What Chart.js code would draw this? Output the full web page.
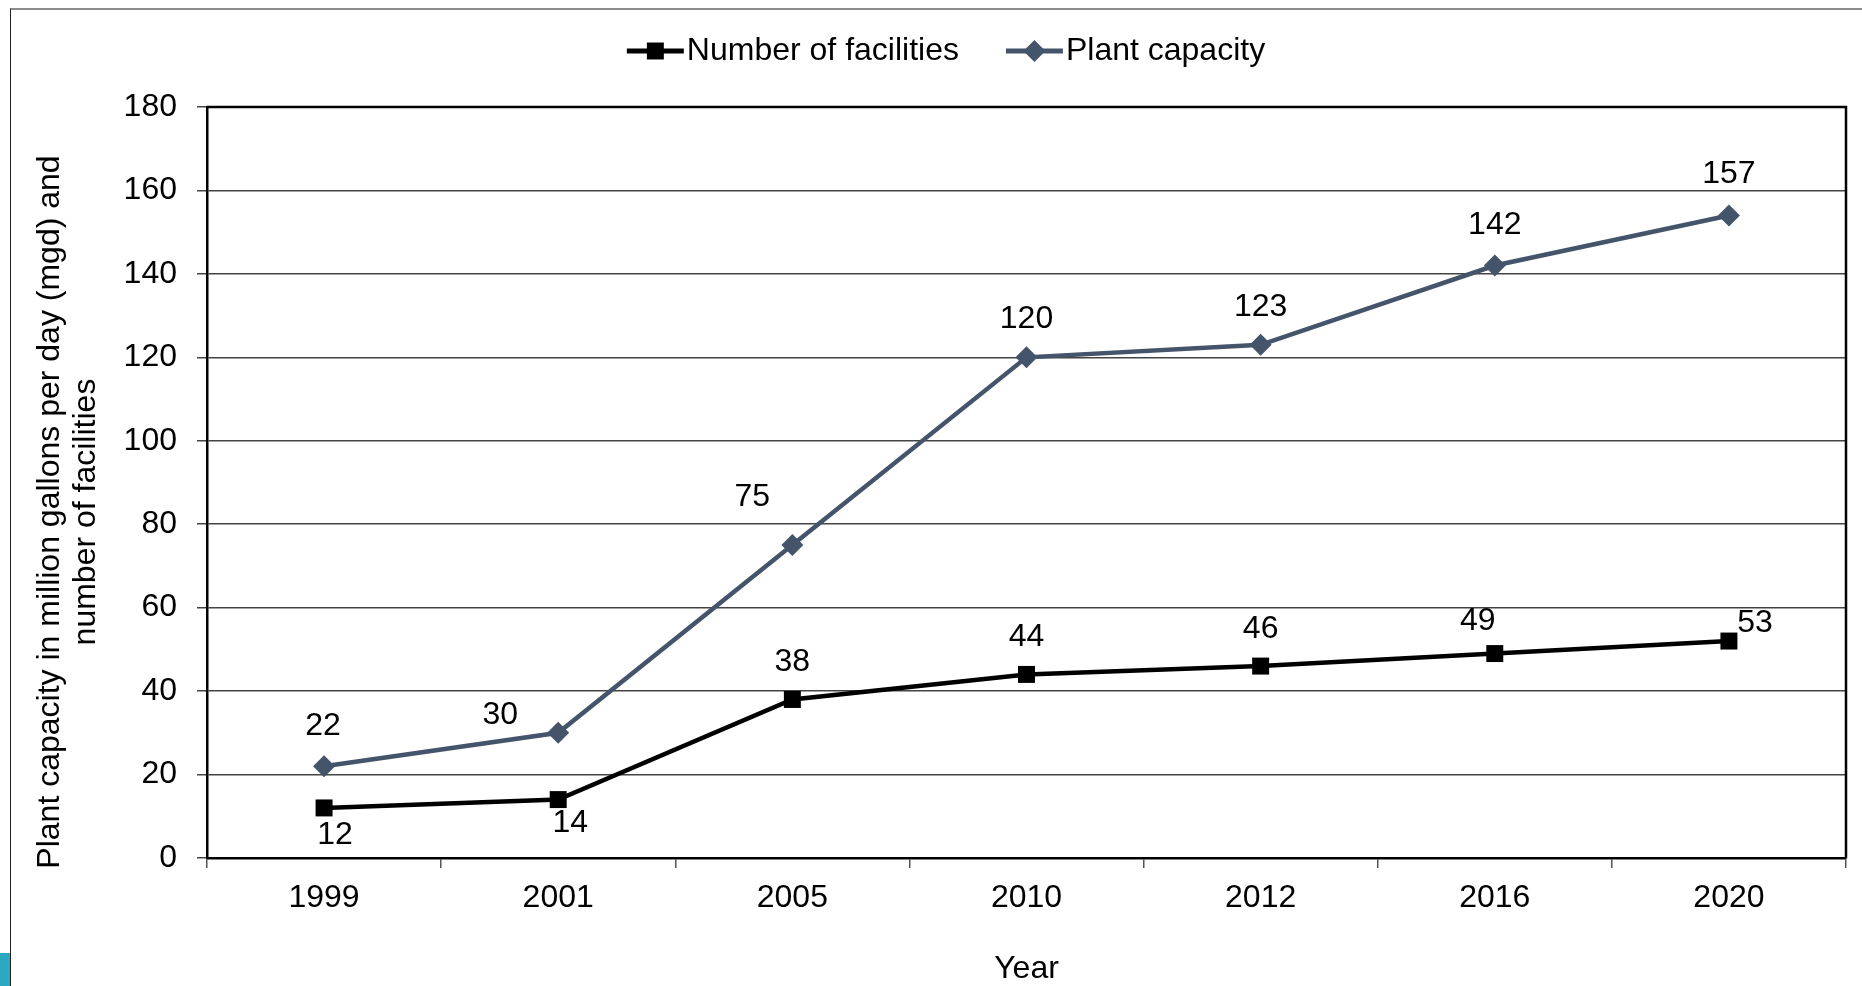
<!DOCTYPE html>
<html>
<head>
<meta charset="utf-8">
<script src="https://cdn.jsdelivr.net/npm/chart.js@4.4.0/dist/chart.umd.min.js"></script>
<style>
  html, body { margin: 0; padding: 0; background: #fff; }
  body { width: 1862px; height: 986px; position: relative; overflow: hidden; }
  #frame { position: absolute; left: 10px; top: 8px; width: 1900px; height: 1000px;
           border-top: 2px solid #8c8c8c; border-left: 1.5px solid #222; }
  #tab { position: absolute; left: 0; top: 953px; width: 10px; height: 33px; background: #2ca8c2; }
  #wrap { position: absolute; left: 0; top: 0; }
</style>
</head>
<body>
<div id="frame"></div>
<div id="tab"></div>
<div id="wrap"><canvas id="myChart" width="1862" height="986"></canvas></div>
<script>
// chart data
const years = ['1999', '2001', '2005', '2010', '2012', '2016', '2020']
const facilities = [12, 14, 38, 44, 46, 49, 52]
const capacity = [22, 30, 75, 120, 123, 142, 154]
// value labels as printed on the original
const facilityLabels = ['12', '14', '38', '44', '46', '49', '53']
const capacityLabels = ['22', '30', '75', '120', '123', '142', '157']
const yMin = 0
const yMax = 180
const yStep = 20

// label placement relative to each point (px)
const facilityOffsets = [[11, 27], [12, 24], [0, -37], [0, -37], [0, -37], [-17, -32], [26, -18]]
const capacityOffsets = [[-1, -40], [-58, -18], [-40, -48], [0, -38], [0, -38], [0, -40], [0, -41]]

const FONT = "'Liberation Sans', Arial, sans-serif"
const FS = 32
const slate = '#44546a'

Chart.defaults.font.family = FONT
Chart.defaults.font.size = FS
Chart.defaults.color = '#000'

function drawMarker(ctx, style, x, y, r, color) {
  ctx.save()
  ctx.fillStyle = color
  ctx.beginPath()
  if (style === 'rect') {
    const s = r * Math.SQRT1_2
    ctx.rect(x - s, y - s, 2 * s, 2 * s)
  } else {
    ctx.moveTo(x - r, y)
    ctx.lineTo(x, y - r)
    ctx.lineTo(x + r, y)
    ctx.lineTo(x, y + r)
    ctx.closePath()
  }
  ctx.fill()
  ctx.restore()
}

const boxPlugin = {
  id: 'box',
  afterDraw(chart) {
    const { ctx, chartArea: a } = chart
    ctx.save()
    ctx.strokeStyle = '#000'
    ctx.lineWidth = 2.5
    ctx.beginPath()
    ctx.moveTo(a.left, a.top)
    ctx.lineTo(a.right, a.top)
    ctx.lineTo(a.right, a.bottom)
    ctx.stroke()
    ctx.restore()
  }
}

const valueLabels = {
  id: 'valueLabels',
  afterDatasetsDraw(chart) {
    const { ctx } = chart
    const sets = [[facilityLabels, facilityOffsets], [capacityLabels, capacityOffsets]]
    ctx.save()
    ctx.font = FS + 'px ' + FONT
    ctx.fillStyle = '#000'
    ctx.textAlign = 'center'
    ctx.textBaseline = 'middle'
    sets.forEach(([labels, offs], i) => {
      chart.getDatasetMeta(i).data.forEach((pt, j) => {
        ctx.fillText(labels[j], pt.x + offs[j][0], pt.y + offs[j][1])
      })
    })
    ctx.restore()
  }
}

const lineLegend = {
  id: 'lineLegend',
  afterDraw(chart) {
    const { ctx } = chart
    ctx.save()
    ctx.font = FS + 'px ' + FONT
    ctx.textBaseline = 'middle'
    const lineLen = 57, gapText = 3, gapItem = 47, y = 51
    const items = chart.data.datasets.map(ds => ({
      text: ds.label, color: ds.borderColor, style: ds.pointStyle, r: ds.pointRadius,
      w: ctx.measureText(ds.label).width
    }))
    const total = items.reduce((s, it) => s + lineLen + gapText + it.w, 0) + gapItem * (items.length - 1)
    let x = chart.width / 2 + 15 - total / 2
    items.forEach(it => {
      ctx.strokeStyle = it.color
      ctx.lineWidth = 5
      ctx.beginPath()
      ctx.moveTo(x, y)
      ctx.lineTo(x + lineLen, y)
      ctx.stroke()
      drawMarker(ctx, it.style, x + lineLen / 2, y, it.r, it.color)
      ctx.fillStyle = '#000'
      ctx.textAlign = 'left'
      ctx.fillText(it.text, x + lineLen + gapText, y)
      x += lineLen + gapText + it.w + gapItem
    })
    ctx.restore()
  }
}

const yTitle = {
  id: 'yTitle',
  afterDraw(chart) {
    const { ctx } = chart
    const lines = ['Plant capacity in million gallons per day (mgd) and', 'number of facilities']
    ctx.save()
    ctx.font = FS + 'px ' + FONT
    ctx.fillStyle = '#000'
    ctx.textAlign = 'center'
    ctx.textBaseline = 'middle'
    ctx.translate(50, 512)
    ctx.rotate(-Math.PI / 2)
    lines.forEach((t, i) => ctx.fillText(t, 0, i * 36))
    ctx.restore()
  }
}

const ctx = document.getElementById('myChart').getContext('2d')

const config = {
  type: 'line',
  data: {
    labels: years,
    datasets: [
      {
        label: 'Number of facilities',
        data: facilities,
        borderColor: '#000',
        backgroundColor: '#000',
        borderWidth: 4.5,
        pointStyle: 'rect',
        pointRadius: 12,
        pointBorderWidth: 0,
        tension: 0
      },
      {
        label: 'Plant capacity',
        data: capacity,
        borderColor: slate,
        backgroundColor: slate,
        borderWidth: 4.5,
        pointStyle: 'rectRot',
        pointRadius: 11,
        pointBorderWidth: 0,
        tension: 0
      }
    ]
  },
  options: {
    responsive: false,
    devicePixelRatio: 1,
    animation: false,
    layout: { padding: { top: 107, right: 16, left: 0, bottom: 0 } },
    plugins: {
      legend: { display: false },
      tooltip: { enabled: false }
    },
    scales: {
      x: {
        offset: true,
        grid: { offset: true, drawOnChartArea: false, tickLength: 10, color: '#555', lineWidth: 1.5 },
        border: { color: '#000', width: 2.5 },
        ticks: { padding: 11, font: { size: FS }, color: '#000' },
        title: { display: true, text: 'Year', font: { size: FS }, color: '#000', padding: { top: 0, bottom: -2 } },
        afterFit: s => { s.height = 128 }
      },
      y: {
        min: yMin,
        max: yMax,
        ticks: { stepSize: yStep, padding: 20, font: { size: FS }, color: '#000' },
        grid: { color: '#444', lineWidth: 1.5, tickLength: 10 },
        border: { color: '#000', width: 2.5 },
        afterFit: s => { s.width = 207 }
      }
    }
  },
  plugins: [boxPlugin, valueLabels, lineLegend, yTitle]
}

const myLineChart = new Chart(ctx, config)
</script>
</body>
</html>
